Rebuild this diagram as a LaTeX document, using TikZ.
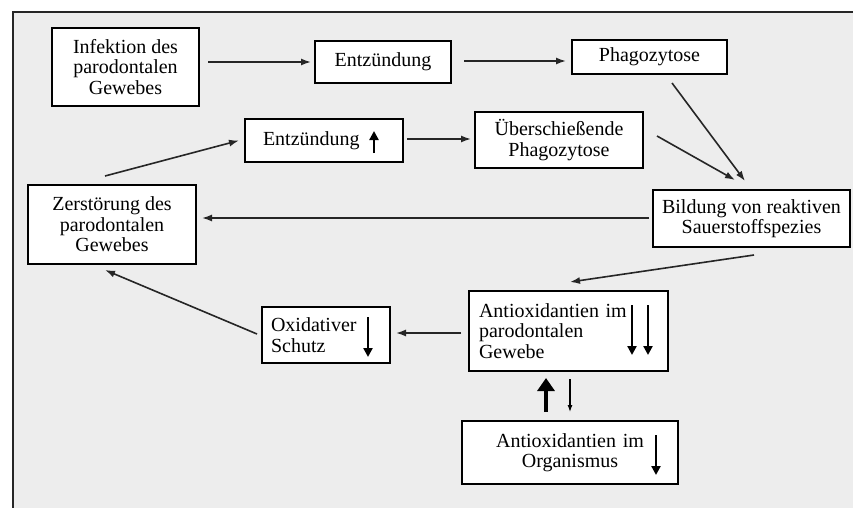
\documentclass[tikz,border=0pt]{standalone}
\usepackage{fontspec}
\setmainfont{Liberation Serif}
\usetikzlibrary{calc,arrows.meta}
\begin{document}
\begin{tikzpicture}[x=1pt,y=-1pt,
  box/.style={draw=black,line width=2pt,fill=white,inner ysep=0pt,
    font=\fontsize{20}{20.5}\selectfont},
  conn/.style={line width=1.6pt,black!85,-{Latex[length=10pt,width=7pt]}},
  inarrow/.style={line width=2.4pt,-{Triangle[length=9pt,width=9pt]}}]
\useasboundingbox (0,0) rectangle (853,508);
\fill[white] (0,0) rectangle (853,508);
\fill[black!7] (13,12) rectangle (853,508);
\draw[line width=2.4pt,black!85] (13,508) -- (13,12) -- (853,12);

\node[box,align=center,minimum width=147pt,minimum height=78pt] (inf) at (125.5,67) {Infektion des\\parodontalen\\Gewebes};
\node[box,align=center,minimum width=136pt,minimum height=42pt] (ent1) at (383,62) {Entzündung};
\node[box,align=center,minimum width=155pt,minimum height=34pt] (pha) at (649.5,57) {Phagozytose};
\node[box,align=left,text width=122pt,inner xsep=18pt,minimum height=43pt] (ent2) at (324,140.5) {Entzündung};
\node[box,align=center,minimum width=168pt,minimum height=56pt] (ueb) at (559,140) {Überschießende\\Phagozytose};
\node[box,align=center,minimum width=197pt,minimum height=57pt] (bil) at (751.5,218.5) {Bildung von reaktiven\\Sauerstoffspezies};
\node[box,align=center,minimum width=168pt,minimum height=79pt] (zer) at (112,224.5) {Zerstörung des\\parodontalen\\Gewebes};
\node[box,align=left,text width=110pt,inner xsep=9pt,minimum height=56pt] (oxi) at (326,335) {Oxidativer\\Schutz};
\node[box,align=left,text width=179pt,inner xsep=10pt,minimum height=80pt] (ant1) at (568.5,331) {Antioxidantien im\\parodontalen\\Gewebe};
\node[box,align=center,text width=196pt,inner xsep=10pt,minimum height=63pt] (ant2) at (570,452.5) {Antioxidantien im\\Organismus};

% inline arrows
\draw[inarrow] ($(ent2.west)+(130,12.5)$) -- ($(ent2.west)+(130,-9.5)$);
\draw[inarrow] ($(oxi.west)+(107,-18)$) -- ($(oxi.west)+(107,22)$);
\draw[inarrow] ($(ant1.west)+(164,-26)$) -- ($(ant1.west)+(164,24)$);
\draw[inarrow] ($(ant1.west)+(180,-26)$) -- ($(ant1.west)+(180,24)$);
\draw[inarrow] ($(ant2.west)+(195,-17.5)$) -- ($(ant2.west)+(195,22.5)$);

% connectors
\draw[conn] ($(inf.east)+(8,-5)$) -- ($(ent1.west)+(-3,0)$);
\draw[conn] ($(ent1.east)+(12,-1)$) -- ($(pha.west)+(-5,4)$);
\draw[conn] ($(pha.south)+(22.5,8)$) -- ($(bil.north)+(-6.5,-8)$);
\draw[conn] ($(ueb.east)+(13,-4)$) -- ($(bil.north)+(-16.5,-9)$);
\draw[conn] ($(ent2.east)+(3,-1.5)$) -- ($(ueb.west)+(-3,-1)$);
\draw[conn] ($(zer.north)+(-7,-8)$) -- ($(ent2.west)+(-5,0)$);
\draw[conn] ($(bil.west)+(-3,-0.5)$) -- ($(zer.east)+(5,-6.5)$);
\draw[conn] ($(bil.south)+(2.5,7)$) -- ($(ant1.north)+(1.5,-8)$);
\draw[conn] ($(ant1.west)+(-7,2)$) -- ($(oxi.east)+(5,-2)$);
\draw[conn] ($(oxi.west)+(-4,-1)$) -- ($(zer.south)+(-7,5)$);
\draw[line width=4.5pt,-{Triangle[length=13pt,width=17pt]}] ($(ant2.north)+(-24,-8)$) -- ($(ant1.south)+(-22.5,6)$);
\draw[line width=1.1pt,-{Latex[length=7pt,width=5pt]}] ($(ant1.south)+(1.5,7)$) -- ($(ant2.north)+(0,-8)$);
\end{tikzpicture}
\end{document}
